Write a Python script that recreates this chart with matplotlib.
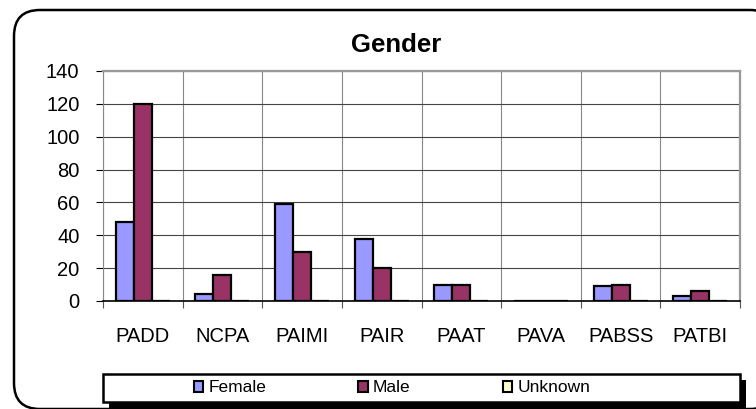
import numpy as np
import matplotlib
matplotlib.use("Agg")
import matplotlib.pyplot as plt
from matplotlib.patches import FancyBboxPatch, Rectangle, Patch

plt.rcParams['font.family'] = ['Liberation Sans', 'DejaVu Sans']

categories = ["PADD", "NCPA", "PAIMI", "PAIR", "PAAT", "PAVA", "PABSS", "PATBI"]
female = [48, 4, 59, 38, 10, 0, 9, 3]
male = [120, 16, 30, 20, 10, 0, 10, 6]
unknown = [0, 0, 0, 0, 0, 0, 0, 0]
series = [("Female", female, "#9999FF"), ("Male", male, "#993366"), ("Unknown", unknown, "#FFFFCC")]

W, H = 756, 409
fig = plt.figure(figsize=(W / 100, H / 100), dpi=100)

# background layer in pixel coords: rounded frame and legend box
bg = fig.add_axes([0, 0, 1, 1])
bg.set_xlim(0, W)
bg.set_ylim(H, 0)
bg.axis("off")
bg.add_patch(FancyBboxPatch((14, 10), 762, 399, boxstyle="round,pad=0,rounding_size=26",
                            facecolor="white", edgecolor="black", linewidth=1.8))
bg.add_patch(Rectangle((109, 380), 637, 28, facecolor="black", edgecolor="none"))
bg.add_patch(Rectangle((103, 374), 637, 28, facecolor="white", edgecolor="black", linewidth=1.8))

# plot area
L, R, T, B = 103, 740, 71, 301
ax = fig.add_axes([L / W, 1 - B / H, (R - L) / W, (B - T) / H])
x = np.arange(len(categories))
bw = 0.226
for i, (name, vals, col) in enumerate(series):
    ax.bar(x + (i - 1) * bw, vals, bw, color=col, edgecolor="black", linewidth=1.6, zorder=3)

ax.set_xlim(-0.5, len(categories) - 0.5)
ax.set_ylim(0, 140)
ax.set_yticks(np.arange(0, 141, 20))
ax.set_xticks(x)
ax.set_xticklabels(categories)
ax.set_xticks(np.arange(-0.5, len(categories)), minor=True)
ax.tick_params(axis="x", which="major", length=0, pad=19, labelsize=14.5)
ax.tick_params(axis="x", which="minor", length=5, width=0.8, color="#555555")
ax.tick_params(axis="y", length=5, width=0.8, pad=12, labelsize=14.5)
ax.grid(axis="y", color="#444444", linewidth=0.8, zorder=0)
ax.grid(axis="x", which="minor", color="#888888", linewidth=0.8, zorder=0)
ax.set_axisbelow(True)
for s in ["top", "right"]:
    ax.spines[s].set_color("#999999")
    ax.spines[s].set_linewidth(1.6)
ax.spines["left"].set_color("#888888")
ax.spines["bottom"].set_color("black")
ax.spines["bottom"].set_linewidth(1.2)

fig.text(396 / W, 1 - 45 / H, "Gender", ha="center", va="center", fontsize=18.5, fontweight="bold")

handles = [Patch(facecolor=c, edgecolor="black", linewidth=1.5, label=n) for n, v, c in series]
fig.legend(handles=handles, loc="center", bbox_to_anchor=(392 / W, 1 - 388 / H), ncol=3,
           frameon=False, fontsize=12.5, handlelength=0.55, handleheight=0.55,
           handletextpad=0.3, columnspacing=5.3, borderpad=0)

fig.savefig("out.png", dpi=100)
